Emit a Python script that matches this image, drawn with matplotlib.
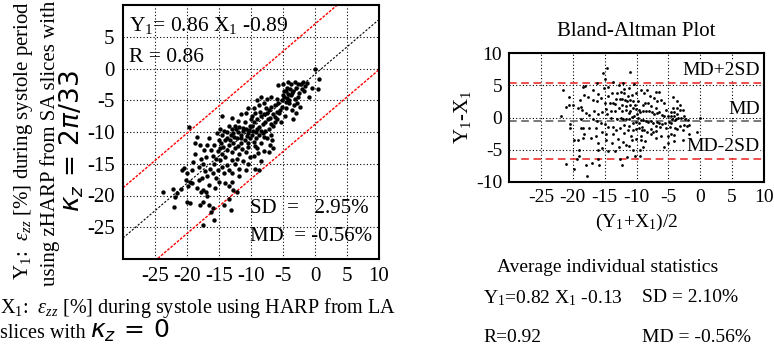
import numpy as np
import matplotlib
matplotlib.use("Agg")
import matplotlib.pyplot as plt

plt.rcParams['font.family'] = ['Liberation Serif', 'DejaVu Serif']
plt.rcParams['mathtext.fontset'] = 'custom'
plt.rcParams['mathtext.rm'] = 'Liberation Serif'
plt.rcParams['mathtext.it'] = 'Liberation Serif:italic'
plt.rcParams['mathtext.bf'] = 'Liberation Serif:bold'
plt.rcParams['axes.unicode_minus'] = False

# ---------------- data ----------------
pts = [
    (-23.7,-19.5),(-22.2,-19.0),(-22.0,-21.8),(-21.8,-20.2),(-21.5,-19.6),(-20.8,-16.0),(-20.5,-15.6),
    (-20.2,-17.5),(-19.9,-18.5),(-20.0,-21.0),(-19.6,-21.2),(-19.5,-17.8),(-19.2,-16.0),(-19.0,-14.8),
    (-19.7,-9.2),(-20.0,-16.5),(-21.0,-19.0),(-19.2,-18.0),
    (-18.5,-10.8),(-18.7,-11.8),(-18.0,-12.0),(-17.8,-14.2),(-18.2,-15.5),(-17.5,-15.0),(-17.0,-14.0),
    (-16.8,-12.0),(-16.5,-11.0),(-16.2,-12.8),(-16.0,-13.8),(-15.8,-15.0),(-15.5,-14.2),(-15.2,-13.0),
    (-17.2,-16.2),(-16.8,-17.0),(-16.4,-15.8),(-16.0,-16.5),(-15.5,-17.2),(-15.2,-16.0),(-17.5,-19.2),
    (-17.0,-19.5),(-16.8,-20.0),(-17.8,-19.5),(-18.0,-21.5),(-17.5,-21.0),(-16.5,-21.5),(-16.2,-22.6),
    (-15.8,-23.8),(-16.0,-22.0),(-17.5,-24.7),(-18.2,-17.5),(-18.5,-18.8),(-15.0,-11.2),(-15.3,-10.2),
    (-15.8,-12.0),(-17.3,-12.8),(-18.8,-13.5),(-17.6,-17.2),(-16.6,-18.3),(-15.6,-18.8),(-15.0,-17.8),
    (-14.8,-9.5),(-14.5,-10.5),(-14.2,-9.8),(-14.0,-11.2),(-13.8,-10.0),(-13.5,-9.0),(-13.2,-10.5),
    (-13.0,-9.6),(-12.8,-10.2),(-12.5,-9.0),(-12.2,-11.0),(-12.0,-10.0),(-11.8,-9.2),(-11.5,-10.5),
    (-11.2,-9.8),(-11.0,-8.5),(-10.8,-9.5),(-10.5,-10.2),(-10.2,-9.0),(-10.0,-8.0),(-14.8,-12.5),
    (-14.5,-13.5),(-14.0,-14.0),(-13.8,-12.8),(-13.5,-12.0),(-13.0,-13.2),(-12.8,-11.8),(-12.5,-12.5),
    (-12.0,-12.2),(-11.5,-11.8),(-11.0,-11.2),(-10.5,-11.8),(-10.2,-11.0),(-14.5,-15.5),(-14.2,-16.5),
    (-13.8,-15.2),(-13.5,-16.0),(-13.0,-16.5),(-12.5,-15.0),(-12.2,-14.2),(-11.8,-13.5),(-11.2,-14.5),
    (-10.8,-13.2),(-10.5,-15.0),(-14.0,-18.0),(-13.5,-18.5),(-13.0,-17.8),(-12.8,-19.2),(-12.2,-19.5),
    (-13.5,-20.5),(-13.2,-22.3),(-14.2,-21.5),(-11.8,-17.0),(-10.8,-16.0),(-10.2,-14.0),(-14.6,-7.5),
    (-13.0,-7.8),(-12.0,-8.2),(-11.5,-7.2),(-10.8,-7.0),(-10.5,-6.2),(-14.7,-11.8),(-13.3,-11.3),
    (-12.6,-10.8),(-11.6,-10.9),(-11.3,-9.3),(-10.7,-10.6),(-10.3,-9.7),(-12.3,-9.6),(-13.7,-10.9),
    (-14.4,-12.3),(-14.9,-14.4),(-12.9,-14.4),(-11.9,-15.8),(-11.4,-12.6),(-10.4,-12.4),
    (-9.8,-9.0),(-9.5,-8.5),(-9.2,-10.0),(-9.0,-8.0),(-8.8,-9.2),(-8.5,-7.5),(-8.2,-8.8),(-8.0,-7.2),
    (-7.8,-8.5),(-7.5,-7.0),(-7.2,-6.5),(-7.0,-7.8),(-6.8,-6.0),(-6.5,-7.2),(-6.2,-5.8),(-6.0,-6.8),
    (-5.8,-5.5),(-5.5,-6.5),(-5.2,-5.0),(-9.8,-10.5),(-9.5,-11.5),(-9.2,-11.0),(-9.0,-12.5),(-8.8,-10.5),
    (-8.5,-11.8),(-8.2,-10.2),(-8.0,-13.0),(-7.8,-9.8),(-7.5,-11.0),(-7.2,-9.5),(-7.0,-12.0),(-6.8,-10.5),
    (-6.5,-9.0),(-6.2,-8.5),(-9.5,-6.2),(-9.0,-5.0),(-8.8,-5.8),(-8.5,-4.5),(-8.0,-5.5),(-7.5,-4.8),
    (-6.8,-4.5),(-6.0,-4.8),(-9.6,-13.8),(-8.4,-14.5),(-7.2,-13.2),(-6.5,-12.5),(-9.3,-15.8),(-8.7,-16.0),
    (-9.8,-7.5),(-9.3,-7.0),(-8.6,-6.8),(-7.6,-6.2),(-6.9,-8.7),(-6.3,-7.6),(-5.9,-8.0),(-5.6,-7.0),
    (-5.3,-8.5),(-5.1,-6.0),(-9.7,-9.8),(-9.1,-9.5),(-8.4,-9.9),(-7.9,-10.8),(-7.4,-8.0),(-9.4,-12.2),
    (-6.7,-11.2),(-8.9,-13.3),
    (-4.8,-4.5),(-4.5,-5.2),(-4.2,-4.0),(-4.0,-5.5),(-3.8,-4.2),(-3.5,-3.5),(-3.2,-4.8),(-3.0,-3.0),
    (-2.8,-5.5),(-2.5,-3.8),(-2.2,-2.5),(-2.0,-3.2),(-1.8,-2.2),(-1.5,-2.8),(-1.2,-2.3),(-1.0,-4.5),
    (-0.5,-3.0),(0.7,-1.6),(0.4,-3.3),(0.0,0.0),(-5.8,-2.6),(-5.0,-2.4),(-4.2,-2.2),(-3.7,-2.5),
    (-3.2,-2.1),(-2.6,-2.4),(-4.9,-3.5),(-4.4,-3.0),(-3.9,-3.3),(-4.6,-6.2),(-3.6,-6.5),(-3.0,-7.0),
    (-3.4,-8.0),(-2.3,-6.0),(-4.7,-7.5),(-4.1,-5.0),(-3.3,-5.8),(-2.7,-4.5),(-1.7,-3.6),(-4.3,-4.6),
    (-3.6,-3.9),(-5.0,-4.2),(-4.5,-3.6),
]
x_vals = [p[0] for p in pts]
y_vals = [p[1] for p in pts]

fit_slope = 0.86
fit_icpt = -0.89
band_offset = 7.9
md_val = -0.56
sd_val = 2.95

ticks_main_x = [-25, -20, -15, -10, -5, 0, 5, 10]
ticks_main_y = [-25, -20, -15, -10, -5, 0, 5]
ticks_ba_x = [-25, -20, -15, -10, -5, 0, 5, 10]
ticks_ba_y = [-10, -5, 0, 5, 10]

# ---------------- figure ----------------
W, H = 774, 351
fig = plt.figure(figsize=(W/100, H/100), dpi=100)

def fx(px):
    return px / W

def fy(py):
    return 1 - py / H

ax = fig.add_axes([fx(123), fy(259), fx(379) - fx(123), fy(5) - fy(259)])
X = np.array(x_vals)
Y = np.array(y_vals)
xs = np.array([-30, 10])
ax.plot(xs, fit_slope * xs + fit_icpt, color='black', ls=(0, (2, 1.5)), lw=0.8, zorder=2)
ax.plot(xs, fit_slope * xs + fit_icpt + band_offset, color='red', ls=(0, (2, 1)), lw=1.0, zorder=2)
ax.plot(xs, fit_slope * xs + fit_icpt - band_offset, color='red', ls=(0, (2, 1)), lw=1.0, zorder=2)
ax.scatter(X, Y, s=10, color='black', zorder=3, linewidths=0)
ax.set_xlim(-30, 10)
ax.set_ylim(-30, 10)
ax.set_xticks(ticks_main_x)
ax.set_yticks(ticks_main_y)
ax.grid(True, color='black', ls=(0, (1, 2)), lw=0.8)
ax.tick_params(direction='in', length=0, labelsize=15, pad=6)
for s in ax.spines.values():
    s.set_linewidth(1.5)
ax.text(0.025, 0.92, r'Y$_{\rm 1}$= 0.86 X$_{\rm 1}$ -0.89', transform=ax.transAxes,
        fontsize=15.5, va='center', ha='left', zorder=5)
ax.text(0.025, 0.795, 'R = 0.86', transform=ax.transAxes, fontsize=15.5, va='center', ha='left', zorder=5)
ax.text(0.496, 0.20, 'SD  =   2.95%', transform=ax.transAxes, fontsize=15, va='center', ha='left', zorder=5)
ax.text(0.496, 0.087, 'MD  = -0.56%', transform=ax.transAxes, fontsize=15, va='center', ha='left', zorder=5)

# y label lines
fig.text(fx(24), fy(1), r'Y$_{\rm 1}$:  $\varepsilon_{zz}$ [%] during systole period', rotation=90,
         fontsize=15, ha='center', va='top')
fig.text(fx(50), fy(1), 'using zHARP from SA slices with', rotation=90,
         fontsize=15, ha='center', va='top')
fig.text(fx(72), fy(141), r'$\kappa_z\,=\,2\pi/33$', rotation=90, fontsize=19,
         ha='center', va='center', math_fontfamily='dejavusans')
# x label lines
fig.text(fx(0), fy(308), r'X$_{\rm 1}$:  $\varepsilon_{zz}$ [%] during systole using HARP from LA',
         fontsize=14.5, ha='left', va='center')
fig.text(fx(0), fy(333), 'slices with', fontsize=14.5, ha='left', va='center')
fig.text(fx(90), fy(331), r'$\kappa_z\,=\,0$', fontsize=18, ha='left', va='center',
         math_fontfamily='dejavusans')

# ---------------- Bland-Altman ----------------
bx = fig.add_axes([fx(509), fy(182), fx(764) - fx(509), fy(53) - fy(182)])
mean_v = (X + Y) / 2
diff_v = Y - X
bx.scatter(mean_v, diff_v, s=4, color='black', zorder=3, linewidths=0)
bx.axhline(md_val + 2 * sd_val, color='#e8201c', ls=(0, (5, 3)), lw=1.1, zorder=2)
bx.axhline(md_val - 2 * sd_val, color='#e8201c', ls=(0, (5, 3)), lw=1.1, zorder=2)
bx.axhline(md_val, color='#555555', ls=(0, (5, 3)), lw=1.1, zorder=2)
bx.set_xlim(-30, 10)
bx.set_ylim(-10, 10)
bx.set_xticks(ticks_ba_x)
bx.set_yticks(ticks_ba_y)
bx.grid(True, color='black', ls=(0, (1, 2)), lw=0.8)
bx.tick_params(direction='in', length=0, labelsize=14, pad=5)
for s in bx.spines.values():
    s.set_linewidth(1.5)
bx.set_title('Bland-Altman Plot', fontsize=15, pad=12)
bx.set_ylabel(r'Y$_{\rm 1}$-X$_{\rm 1}$', fontsize=15, labelpad=2)
bx.set_xlabel(r'(Y$_{\rm 1}$+X$_{\rm 1}$)/2', fontsize=14, labelpad=4)
for txt, yv in [('MD+2SD', 7.3), ('MD', 1.3), ('MD-2SD', -4.5)]:
    bx.text(9.3, yv, txt, fontsize=14, ha='right', va='center', zorder=4,
            bbox=dict(facecolor='white', edgecolor='none', pad=0.5))

fig.text(fx(608), fy(267), 'Average individual statistics', fontsize=14, ha='center', va='center')
fig.text(fx(483), fy(298), r'Y$_{\rm 1}$=0.82 X$_{\rm 1}$ -0.13', fontsize=14, ha='left', va='center')
fig.text(fx(642), fy(298), 'SD = 2.10%', fontsize=14, ha='left', va='center')
fig.text(fx(483), fy(338), 'R=0.92', fontsize=14, ha='left', va='center')
fig.text(fx(642), fy(338), 'MD = -0.56%', fontsize=14, ha='left', va='center')

fig.savefig('out.png', dpi=100)
